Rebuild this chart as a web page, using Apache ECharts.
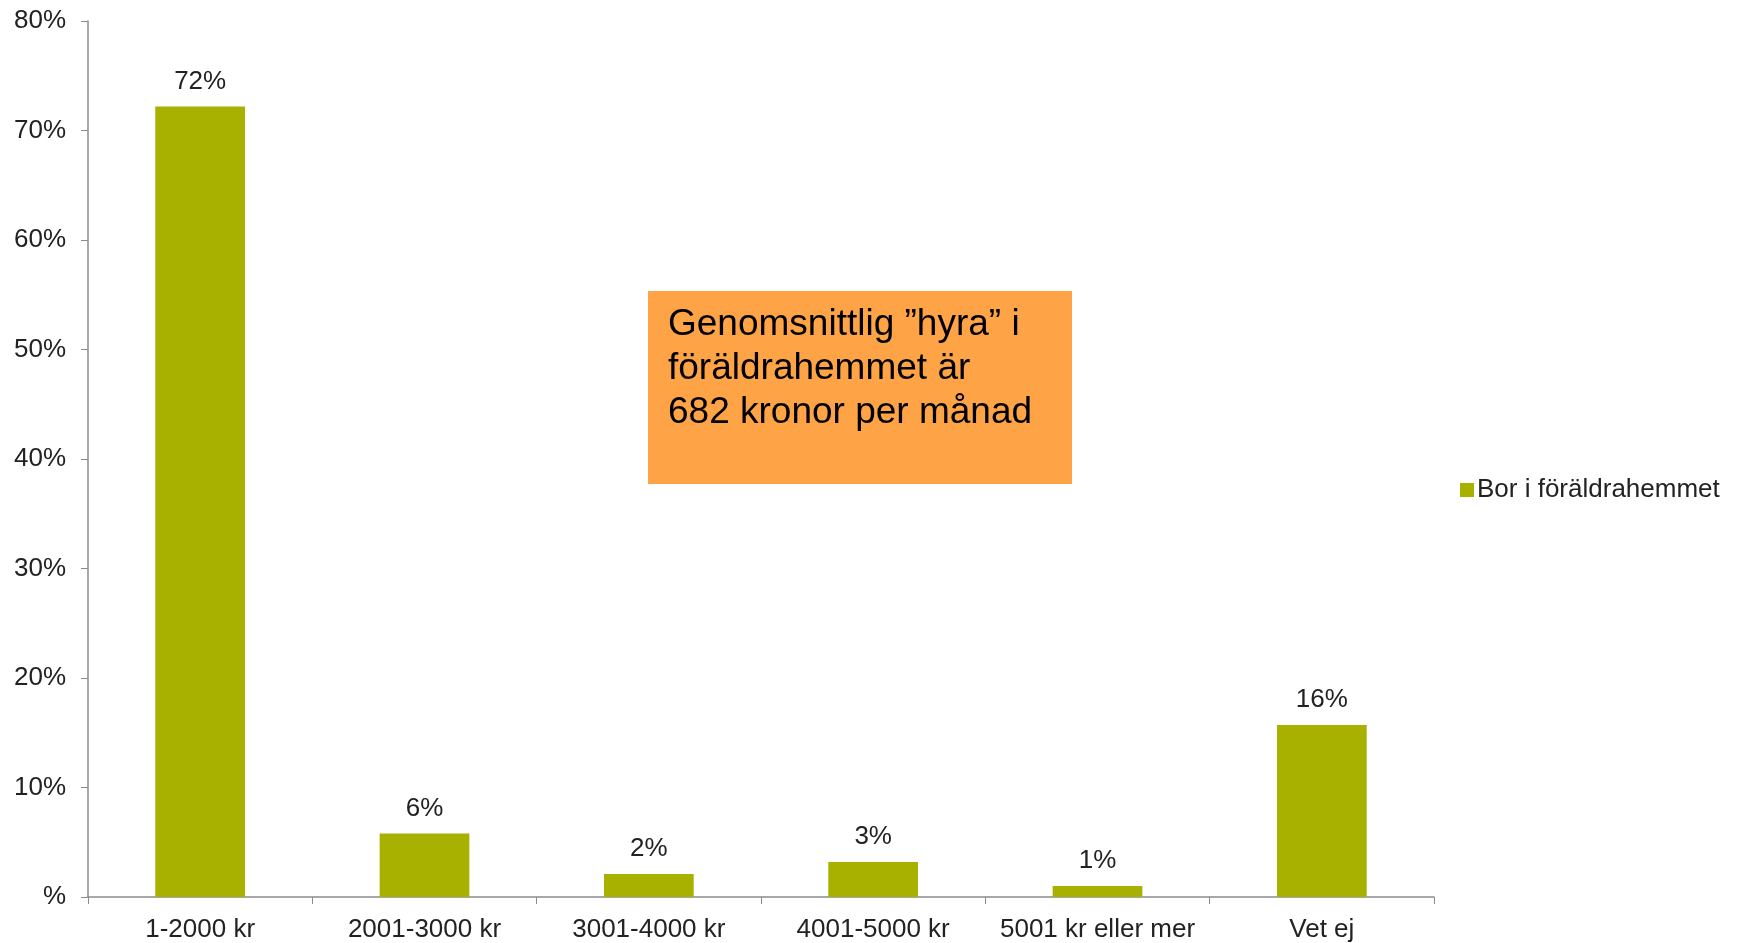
<!DOCTYPE html>
<html>
<head>
<meta charset="utf-8">
<script src="https://cdn.jsdelivr.net/npm/echarts@6/dist/echarts.min.js"></script>
<style>
  html, body { margin: 0; padding: 0; background: #fff; }
  #chart { width: 1748px; height: 943px; }
</style>
</head>
<body>
<div id="chart"></div>
<script>
const categories = ['1-2000 kr', '2001-3000 kr', '3001-4000 kr', '4001-5000 kr', '5001 kr eller mer', 'Vet ej'];
const values = [72.2, 5.8, 2.1, 3.2, 1.0, 15.7];
const seriesName = 'Bor i föräldrahemmet';
const noteLines = ['Genomsnittlig ”hyra” i', 'föräldrahemmet är', '682 kronor per månad'];

const font = 'Liberation Sans, Arial, sans-serif';
const chart = echarts.init(document.getElementById('chart'));

chart.setOption({
  animation: false,
  textStyle: { fontFamily: font },
  grid: { left: 88, right: 314, top: 21, bottom: 46 },
  legend: {
    data: [seriesName],
    left: 1455,
    top: 472,
    orient: 'vertical',
    icon: 'rect',
    itemWidth: 14,
    itemHeight: 14,
    itemGap: 6,
    textStyle: { color: '#222', fontSize: 26, fontFamily: font, padding: [0, 0, 0, -2] }
  },
  xAxis: {
    type: 'category',
    data: categories,
    axisLine: { lineStyle: { color: '#8c8c8c', width: 1.5 } },
    axisTick: { show: true, interval: 0, length: 7, alignWithLabel: false, lineStyle: { color: '#8c8c8c' } },
    axisLabel: { interval: 0, color: '#222', fontSize: 26, margin: 20, fontFamily: font },
    splitLine: { show: false }
  },
  yAxis: {
    type: 'value',
    min: 0,
    max: 80,
    interval: 10,
    axisLine: { show: true, lineStyle: { color: '#8c8c8c', width: 1.5 } },
    axisTick: { show: true, length: 7, lineStyle: { color: '#8c8c8c' } },
    axisLabel: {
      color: '#222',
      fontSize: 26,
      margin: 22,
      fontFamily: font,
      formatter: v => (v === 0 ? '%' : v + '%')
    },
    splitLine: { show: false }
  },
  series: [{
    name: seriesName,
    type: 'bar',
    data: values,
    barWidth: '40%',
    itemStyle: { color: '#A8B000' },
    label: {
      show: true,
      position: 'top',
      distance: 12,
      color: '#222',
      fontSize: 26,
      fontFamily: font,
      formatter: p => Math.round(p.value) + '%'
    }
  }],
  graphic: [
    {
      type: 'rect',
      left: 648,
      top: 291,
      shape: { width: 424, height: 193 },
      style: { fill: '#FFA347' }
    },
    {
      type: 'text',
      left: 668,
      top: 303,
      style: {
        text: noteLines.join('\n'),
        fill: '#000',
        font: '37px ' + font,
        lineHeight: 44
      }
    }
  ]
});
</script>
</body>
</html>
